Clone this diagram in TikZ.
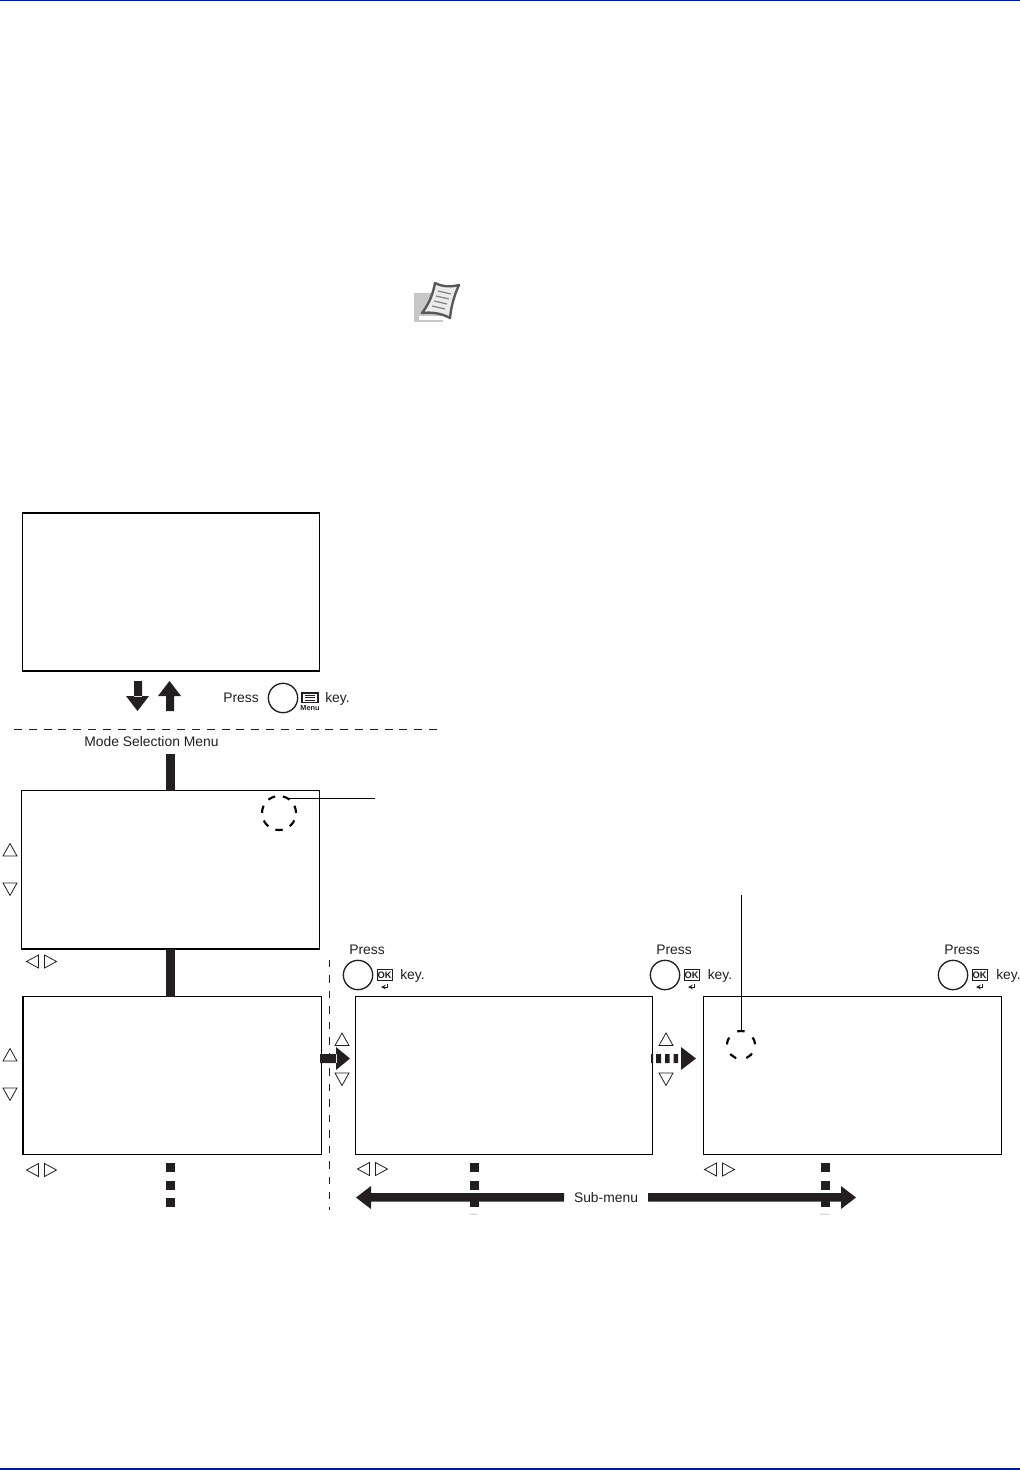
\documentclass[tikz,border=0pt]{standalone}
\usepackage{fontspec}
\setmainfont{Liberation Sans}
\definecolor{hdrblue}{RGB}{0,25,165}
\definecolor{ink}{RGB}{35,31,32}
\tikzset{
  panel/.style={draw=black,line width=1pt,fill=white,anchor=north west,inner sep=0pt,outer sep=0pt},
  label/.style={inner sep=0pt,font=\fontsize{10.4pt}{12pt}\selectfont,text=ink},
  tri/.style={draw=ink,line width=0.6pt,fill=white,line join=miter},
  bar/.style={fill=ink,draw=none},
  knob/.style={circle,draw=ink,line width=1pt,minimum size=22pt,inner sep=0pt},
  ringmark/.style={circle,draw=black,line width=1.6pt,inner sep=0pt},
  leader/.style={draw=black,line width=0.75pt},
  okbox/.style={draw=ink,line width=0.8pt,fill=white,inner sep=0pt,minimum width=11pt,minimum height=8.4pt,font=\fontsize{7pt}{7pt}\selectfont\bfseries,text=ink}
}
\newcommand{\triup}[2]{\draw[tri] (#1-7,#2+6) -- (#1+7,#2+6) -- (#1,#2-6.5) -- cycle;}
\newcommand{\tridown}[2]{\draw[tri] (#1-7,#2-6) -- (#1+7,#2-6) -- (#1,#2+6.5) -- cycle;}
\newcommand{\trileft}[2]{\draw[tri] (#1+5.5,#2-6.5) -- (#1+5.5,#2+6.5) -- (#1-6.5,#2) -- cycle;}
\newcommand{\triright}[2]{\draw[tri] (#1-5.5,#2-6.5) -- (#1-5.5,#2+6.5) -- (#1+6.5,#2) -- cycle;}
\newcommand{\leftright}[2]{\trileft{#1}{#2}\triright{#1+17}{#2}}
\newcommand{\squares}[2]{\fill[ink] (#1-4.5,#2-4.5) rectangle (#1+4.5,#2+4.5);
  \fill[ink] (#1-4.5,#2+13) rectangle (#1+4.5,#2+22);
  \fill[ink] (#1-4.5,#2+30) rectangle (#1+4.5,#2+39);}
\newcommand{\okkey}[4]{%
  \node[knob] (#1) at (#2,#3) {};
  \node[label,anchor=base] at (#2+9,#3-21) {Press};
  \node[okbox] (#1ok) at (#2+26.7,#3) {OK};
  \draw[ink,line width=0.6pt,->,>=stealth] (#2+29,#3+9) -- (#2+29,#3+12) -- (#2+23,#3+12);
  \node[label,anchor=base west] at (#2+#4,#3+4) {key.};
}
\begin{document}
\begin{tikzpicture}[x=0.75pt,y=-0.75pt]
\useasboundingbox (0,0) rectangle (1020,1470);
% header and footer rules
\fill[hdrblue] (0,0) rectangle (1020,1.4);
\fill[hdrblue] (0,1467.8) rectangle (1020,1470);
% panels
\node[panel,minimum width=222.75pt,minimum height=118.5pt] (p1) at (22.5,513) {};
\node[panel,minimum width=223.5pt,minimum height=118.9pt] (p2) at (21.5,790.5) {};
\node[panel,minimum width=223.9pt,minimum height=118.5pt] (p3) at (23,996.5) {};
\node[panel,minimum width=222.75pt,minimum height=118.5pt] (p4) at (355.5,996.5) {};
\node[panel,minimum width=223.5pt,minimum height=118.5pt] (p5) at (703.5,996.5) {};
% note icon
\fill[black!22] (413.5,293) rectangle (443,322);
\fill[white] (419,316) rectangle (443,319.5);
\draw[black!65,line width=1.8pt,fill=black!8,line join=round] (435,283) .. controls (443,287) and (451,287) .. (459,285) .. controls (454,296) and (451,307) .. (450,318) .. controls (441,313) and (431,312) .. (422,313) .. controls (429,304) and (433,294) .. (435,283) -- cycle;
\draw[black!50,line width=0.9pt] (438,291) -- (451,294) (436,296) -- (449,299) (434,301) -- (447,304) (432,306) -- (445,309);
% up/down arrows at top
\fill[ink] (134,681) rectangle (142,697) (126,696) -- (149,696) -- (137.5,711) -- cycle;
\fill[ink] (166,695) rectangle (174,711) (158,696) -- (181,696) -- (169.5,681) -- cycle;
\node[label,anchor=base] (pressmenu) at (241,702) {Press};
\node[knob] (menuknob) at (283,698) {};
\draw[ink,line width=0.9pt] (302,693) rectangle (318,702.5);
\draw[ink,line width=0.7pt] (305,695.5) -- (315,695.5) (305,697.8) -- (315,697.8) (305,700) -- (315,700);
\node[inner sep=0pt,font=\fontsize{5.5pt}{6pt}\selectfont\bfseries,text=ink] (menulab) at (310,708.5) {Menu};
\node[label,anchor=base west] (menukey) at (325,702) {key.};
% horizontal dashed divider
\coordinate (dl) at (14,729);
\coordinate (dr) at (437,729);
\draw[ink,line width=0.7pt,dash pattern=on 6pt off 5.12pt] (dl) -- (dr);
\node[label,anchor=base] (modesel) at (151.5,746) {Mode Selection Menu};
% connectors between panels
\fill[ink] (166,754) rectangle (175,790.5);
\fill[ink] (166,949) rectangle (175,996.5);
% ring marks and leaders
\node[ringmark,minimum size=25.5pt,dash pattern=on 5.5pt off 5.95pt,dash phase=11.4pt] (r1) at (279,813) {};
\coordinate (r1end) at (375,798.5);
\draw[leader] (288,798.5) -- (r1end);
\node[ringmark,minimum size=21pt,dash pattern=on 5.5pt off 7.7pt,dash phase=12.65pt] (r2) at (741,1045) {};
\coordinate (r2top) at (741.3,895);
\draw[leader] (r2top) -- (741.3,1031);
% triangle keys
\triup{10}{850}\tridown{10}{889}
\triup{10}{1055}\tridown{10}{1094}
\triup{342}{1039.5}\tridown{342}{1079}
\triup{666}{1039.5}\tridown{666}{1079}
\leftright{33}{961.5}
\leftright{33}{1170}
\leftright{364}{1169}
\leftright{711}{1169.5}
% vertical dashed divider
\coordinate (vt) at (329.5,960);
\coordinate (vb) at (329.5,1210);
\draw[ink,line width=0.7pt,dash pattern=on 5.6pt off 6pt] (vt) -- (vb);
% OK keys
\okkey{k1}{358}{975}{42}
\okkey{k2}{665}{975}{42.5}
\okkey{k3}{953}{975}{43}
% solid arrow p3->p4
\fill[ink] (320,1054) rectangle (337,1063) (336,1047) -- (350,1058.5) -- (336,1070) -- cycle;
% dashed arrow p4->p5
\fill[ink] (651,1054) rectangle (653,1063) (656,1054) rectangle (661,1063) (665,1054) rectangle (669.5,1063) (673.5,1054) rectangle (678,1063) (681,1047) -- (696,1058.5) -- (681,1070) -- cycle;
% square dots
\squares{170.5}{1167.5}
\squares{474}{1167.5}
\squares{825}{1167.5}
\fill[black!15] (470,1213.5) rectangle (478,1214.8) (820,1213.5) rectangle (829,1214.8);
% sub-menu arrow
\fill[ink] (371,1193) rectangle (564,1201.5) (371,1186) -- (371,1209) -- (356,1197.5) -- cycle;
\fill[ink] (648,1193) rectangle (842,1201.5) (841,1186) -- (841,1209) -- (856,1197.5) -- cycle;
\node[label,anchor=base] (submenu) at (606,1202) {Sub-menu};
\end{tikzpicture}
\end{document}
